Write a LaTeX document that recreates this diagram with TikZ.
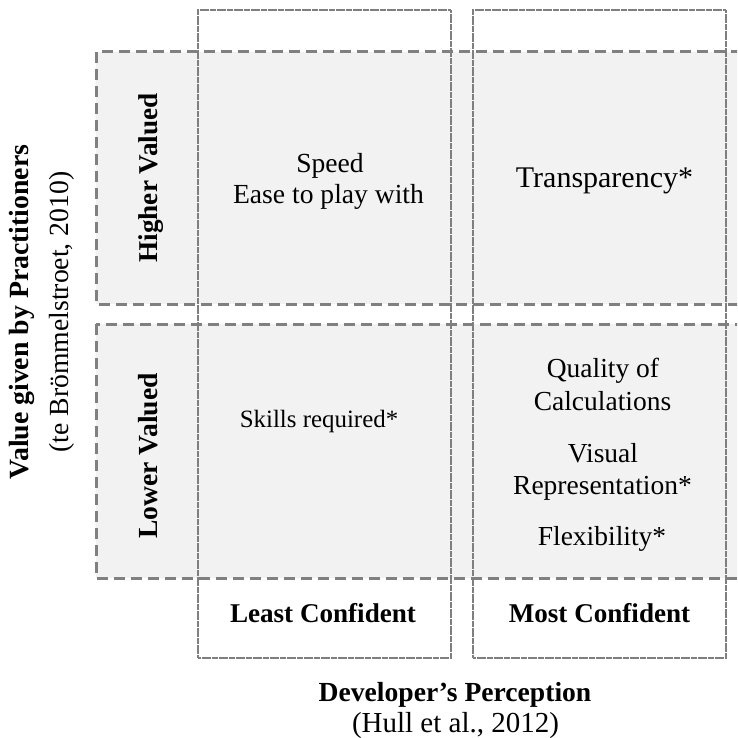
\documentclass[tikz,border=0pt]{standalone}
\usepackage{fontspec}
\setmainfont{Liberation Serif}
\definecolor{bandfill}{HTML}{F2F2F2}
\definecolor{bandline}{HTML}{808080}
\definecolor{colline}{HTML}{7F7F7F}
\begin{document}
\begin{tikzpicture}[x=1pt,y=-1pt,
  band/.style={draw=bandline, line width=3pt, dash pattern=on 11pt off 6pt},
  bandbg/.style={fill=bandfill},
  column/.style={draw=colline, line width=2.4pt, line cap=rect, dash pattern=on 0.6pt off 2.8pt},
  lbl/.style={anchor=base, inner sep=0pt, font=\fontsize{#1}{#1}\selectfont},
  lbl/.default=27.6,
  blbl/.style={lbl=#1, font=\fontsize{#1}{#1}\selectfont\bfseries},
  blbl/.default=27.6]
\useasboundingbox (0,0) rectangle (737,738);
\clip (0,0) rectangle (737,738);

% row bands (value given by practitioners)
\coordinate (hiTL) at (96,52);  \coordinate (hiBR) at (745,304);
\coordinate (loTL) at (96,324); \coordinate (loBR) at (745,578);
\fill[bandbg] (hiTL) rectangle (hiBR);
\fill[bandbg] (loTL) rectangle (loBR);
\draw[band] (hiTL) rectangle (hiBR);
\draw[band] (loTL) rectangle (loBR);

% columns (developer's perception)
\coordinate (lcTL) at (198,10); \coordinate (lcBR) at (451,658);
\coordinate (rcTL) at (473,10); \coordinate (rcBR) at (726,658);
\draw[column] (lcTL) rectangle (lcBR);
\draw[column] (rcTL) rectangle (rcBR);

% vertical axis titles
\node[blbl=27.8, rotate=90] (vtitle) at (28,312) {Value given by Practitioners};
\node[lbl=27.7, rotate=90] (vsrc) at (68,312) {(te Brömmelstroet, 2010)};
\node[blbl=27.2, rotate=90] (hival) at (157,178) {Higher Valued};
\node[blbl=27.6, rotate=90] (loval) at (157,456) {Lower Valued};

% quadrant contents
\node[lbl] (speed) at (330,172) {Speed};
\node[lbl] (ease) at (328.5,203) {Ease to play with};
\node[lbl=30] (transp) at (604.5,187) {Transparency*};
\node[lbl=24.9] (skills) at (319,427) {Skills required*};
\node[lbl=27.5] (qual) at (603,377) {Quality of};
\node[lbl=27.5] (calc) at (602.5,410) {Calculations};
\node[lbl=27.5] (visual) at (603,462) {Visual};
\node[lbl=27.5] (repr) at (602.5,494) {Representation*};
\node[lbl=27.5] (flex) at (602,545) {Flexibility*};

% horizontal axis labels
\node[blbl=27.1] (least) at (323,622) {Least Confident};
\node[blbl=27.1] (most) at (599.5,622) {Most Confident};
\node[blbl=27.6] (htitle) at (455,701) {Developer’s Perception};
\node[lbl=29] (hsrc) at (455.5,732) {(Hull et al., 2012)};
\end{tikzpicture}
\end{document}
